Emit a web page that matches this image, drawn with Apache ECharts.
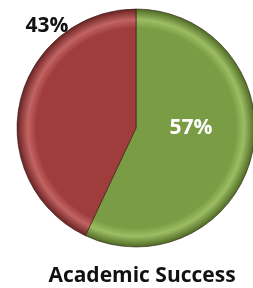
<!DOCTYPE html>
<html>
<head>
<meta charset="utf-8">
<script src="https://cdn.jsdelivr.net/npm/echarts@6/dist/echarts.min.js"></script>
<style>
  html, body { margin: 0; padding: 0; background: #fff; }
  #chart-container { width: 253px; height: 288px; }
</style>
</head>
<body>
<div id="chart-container"></div>
<script>
// slice names, values (percent) and colours
const categories = ['Success', 'Other'];
const values = [57, 43];
const baseColors = ['#7a9c44', '#9e3d3c'];
const edgeLight = ['#9cbd63', '#c26463'];
const edgeDark = ['#4f6a25', '#6a2222'];
const titleText = 'Academic Success';

var dom = document.getElementById('chart-container');
var myChart = echarts.init(dom, null, { renderer: 'canvas' });

var cx = 136, cy = 128, rad = 119;

// bevel look: concentric gradient around the pie centre
function sliceFill(i)
{
   return {
      type: 'radial', x: cx, y: cy, r: rad, global: true,
      colorStops: [
         { offset: 0, color: baseColors[i] },
         { offset: 0.84, color: baseColors[i] },
         { offset: 0.91, color: edgeLight[i] },
         { offset: 1, color: edgeDark[i] }
      ]
   };
}

var data = categories.map((name, i) => ({
   name: name,
   value: values[i],
   itemStyle: { color: sliceFill(i) }
}));

var option =
{
   animation: false,
   title: {
      text: titleText,
      left: 137, top: 261, textAlign: 'center',
      textStyle: { fontFamily: 'Open Sans', fontWeight: 'bold', fontSize: 21, color: '#111' }
   },
   series:
   [
      {
         type: 'pie',
         center: [cx, cy],
         radius: rad,
         startAngle: 90,
         clockwise: true,
         itemStyle: { borderColor: 'rgba(40,20,10,0.55)', borderWidth: 1 },
         label: {
            show: true,
            position: 'inside',
            formatter: '{c}%',
            fontFamily: 'Open Sans',
            fontWeight: 'bold',
            fontSize: 21,
            color: '#fff'
         },
         labelLine: { show: false },
         labelLayout: params =>
         {
            // the smaller slice's label sits outside, top-left
            if (params.dataIndex === 1) return { x: 47, y: 26, align: 'center', verticalAlign: 'middle' };
            return { x: 191, y: 128, align: 'center', verticalAlign: 'middle' };
         },
         data: data
      }
   ]
};

// dark label for the outside one
option.series[0].data[1].label = { color: '#111' };

myChart.setOption(option);
</script>
</body>
</html>
